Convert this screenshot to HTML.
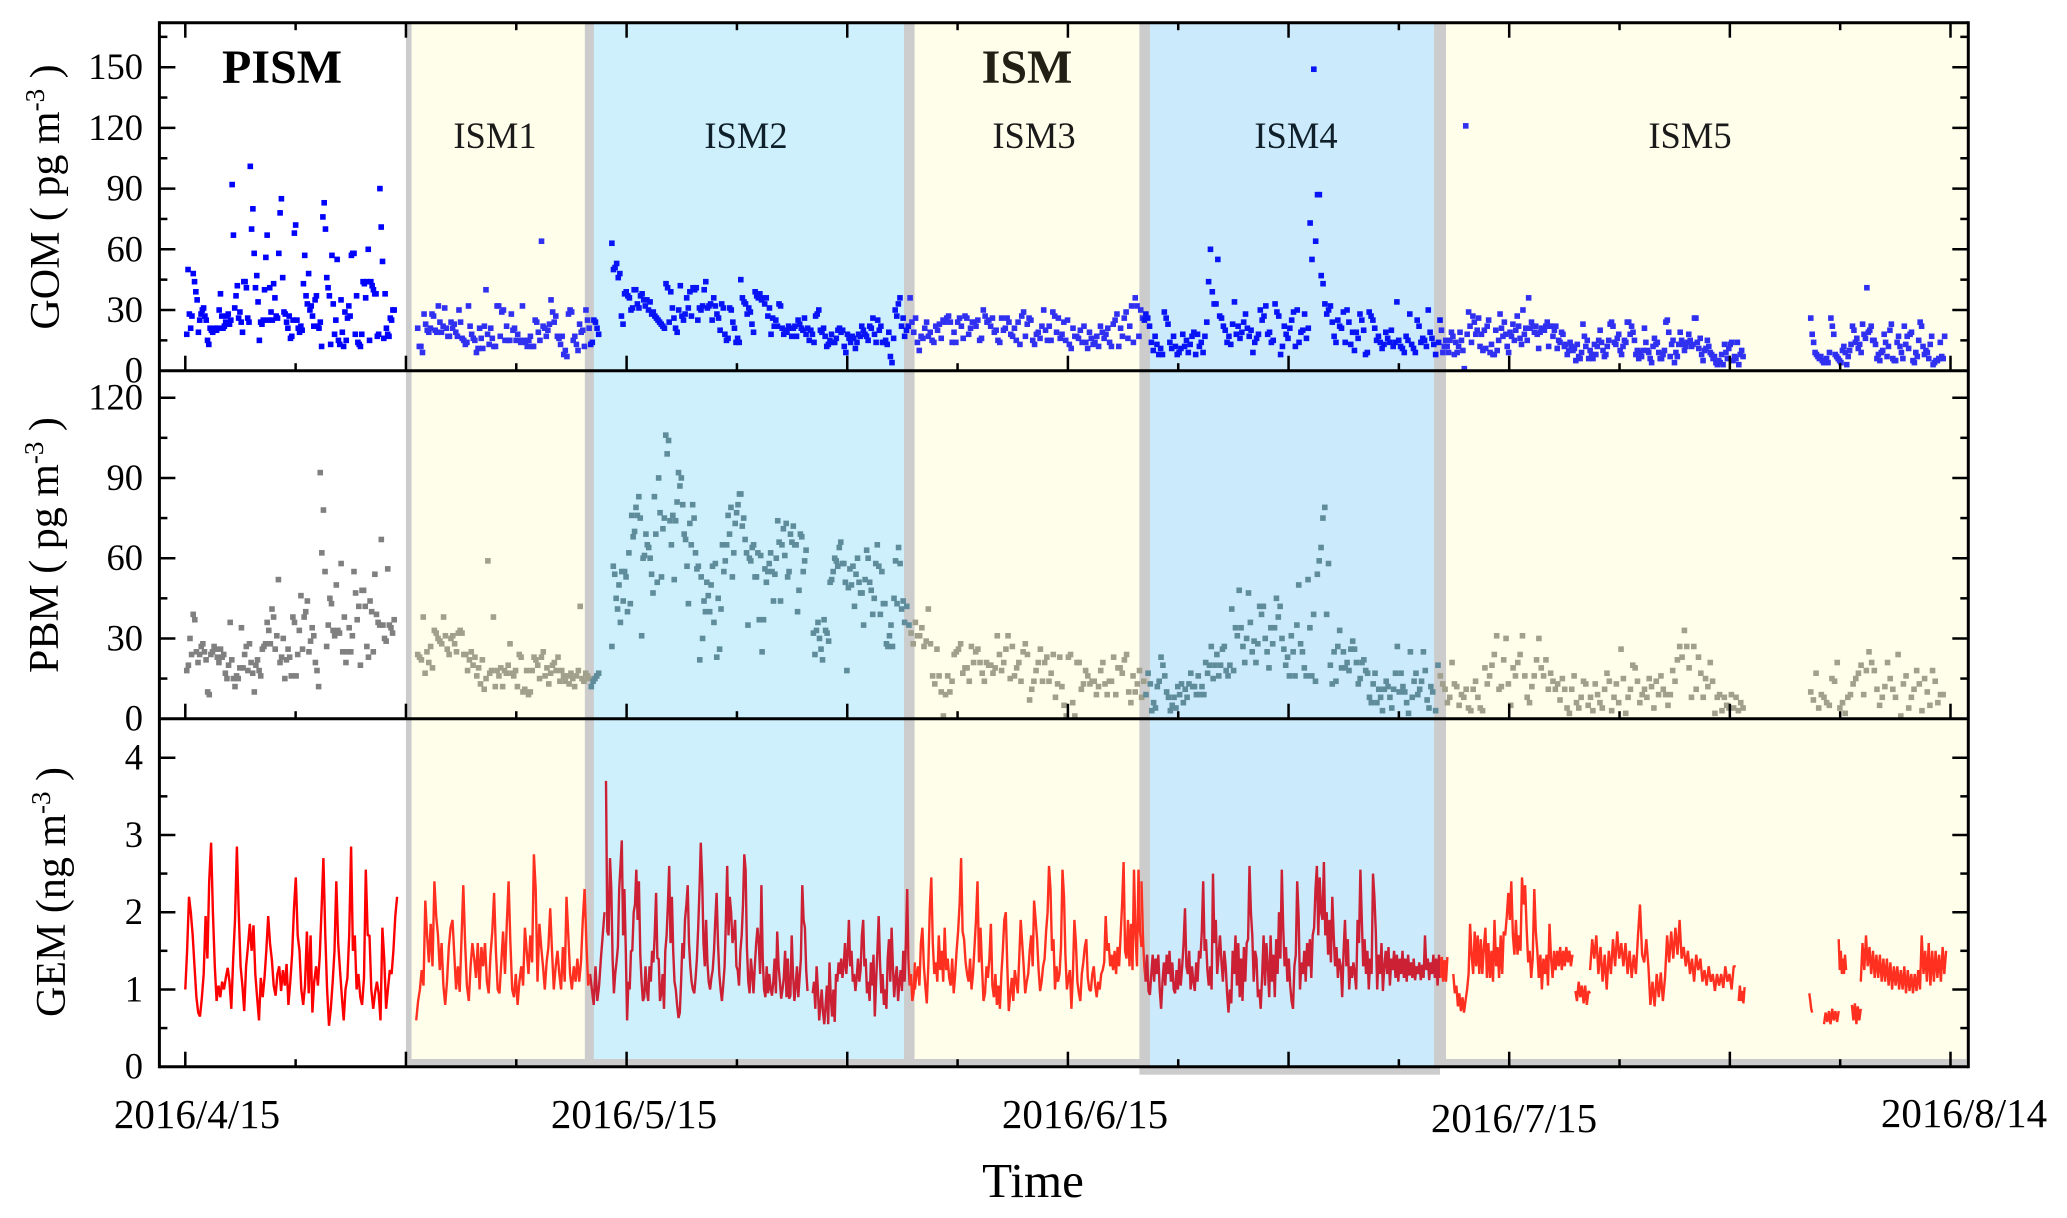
<!DOCTYPE html>
<html lang="en">
<head>
<meta charset="utf-8">
<title>GOM, PBM and GEM time series</title>
<style>
html,body{margin:0;padding:0;background:#fff;}
svg{display:block;font-family:"Liberation Serif",serif;}
</style>
</head>
<body>
<svg id="chart" xmlns="http://www.w3.org/2000/svg" width="2067" height="1218" viewBox="0 0 2067 1218">
  <g id="bands"></g>
  <g id="marks"></g>
  <g id="axes"></g>
  <g>
    <text x="282" y="83" text-anchor="middle" font-size="48" font-weight="bold">PISM</text>
    <text x="1032" y="83" text-anchor="middle" font-size="48" font-weight="bold" fill="#221f14" dx="-5">ISM</text>
    <text x="495" y="148" text-anchor="middle" font-size="36.5" fill="#1a1a1a">ISM1</text>
    <text x="746" y="148" text-anchor="middle" font-size="36.5" fill="#10202a">ISM2</text>
    <text x="1034" y="148" text-anchor="middle" font-size="36.5" fill="#1a1a1a">ISM3</text>
    <text x="1296" y="148" text-anchor="middle" font-size="36.5" fill="#10202a">ISM4</text>
    <text x="1690" y="148" text-anchor="middle" font-size="36.5" fill="#1a1a1a">ISM5</text>
  </g>
  <g font-size="41">
    <text x="197" y="1128" text-anchor="middle">2016/4/15</text>
    <text x="634" y="1128" text-anchor="middle">2016/5/15</text>
    <text x="1085" y="1128" text-anchor="middle">2016/6/15</text>
    <text x="1514" y="1132" text-anchor="middle">2016/7/15</text>
    <text x="1964" y="1127" text-anchor="middle">2016/8/14</text>
  </g>
  <text x="1033" y="1197" text-anchor="middle" font-size="49">Time</text>
  <text transform="translate(59,197) rotate(-90)" text-anchor="middle" font-size="42">GOM ( pg m<tspan dy="-15" font-size="27">-3</tspan><tspan dy="15"> )</tspan></text>
  <text transform="translate(58,545) rotate(-90)" text-anchor="middle" font-size="42">PBM ( pg m<tspan dy="-15" font-size="27">-3</tspan><tspan dy="15"> )</tspan></text>
  <text transform="translate(65,892) rotate(-90)" text-anchor="middle" font-size="42">GEM (ng m<tspan dy="-15" font-size="27">-3</tspan><tspan dy="15"> )</tspan></text>
</svg>
<script>
// ---------- tick data ----------
const gomTicks = [0,30,60,90,120,150];
const gomMinorTicks = [15,45,75,105,135,165];
const pbmTicks = [0,30,60,90,120];
const pbmMinorTicks = [15,45,75,105];
const gemTicks = [0,1,2,3,4];
const gemMinorTicks = [0.5,1.5,2.5,3.5];
const xTickDays = [0,15,30,45,60,75,90,105,120];
const xMinorTickDays = [7.5,22.5,37.5,52.5,67.5,82.5,97.5,112.5];

// ---------- period boundaries, days since 2016/4/15 ----------
const periodEdgeDays = [15,27.5,49.2,65.2,85.3];

// ---------- GOM (pg m-3) ----------
const gomSpans = [[0.1,14.2],[15.8,28.1],[29,48.8],[48.9,65.2],[65.3,85],[85.2,105.9],[110.5,119.6]];
const gomPism = [18,50,28,21,27,48,44,39,35,19,25,28,30,31,27,25,15,13,21,20,19,20,21,20,21,30,38,27,21,22,24,27,28,23,25,92,67,31,37,42,26,29,24,19,44,44,41,26,24,101,70,80,58,41,47,34,15,24,23,25,40,56,67,25,41,29,25,43,36,27,26,58,78,85,46,29,28,24,21,27,16,17,25,68,72,25,21,19,22,20,43,57,37,33,48,30,32,27,22,35,37,22,21,24,12,76,83,70,46,41,37,13,57,33,18,25,55,15,13,35,19,12,29,15,26,32,27,57,58,58,18,37,14,13,12,18,44,43,36,44,60,15,44,42,40,38,38,17,18,90,71,54,16,38,21,18,17,26,25,30,30];
const gomIsm1 = [21,12,12,9,28,23,20,19,21,28,27,20,19,32,24,19,22,31,21,17,17,24,21,23,19,17,30,24,16,15,13,14,32,22,18,16,15,9,11,21,16,11,22,40,18,13,21,16,12,12,32,32,17,29,30,15,22,15,15,28,20,21,15,18,15,14,32,15,14,12,15,17,12,12,25,24,19,15,64,22,21,17,20,23,35,29,24,27,17,16,13,17,8,10,7,28,30,29,15,17,13,10,23,19,20,12,30,25,21,13,14,25,24,21,18];
const gomIsm2 = [63,50,51,53,46,48,27,23,38,39,37,36,30,31,40,40,33,31,37,38,35,32,35,30,34,28,29,27,26,25,24,23,22,21,43,41,24,39,31,26,21,19,30,42,27,25,28,36,31,39,27,41,40,41,25,31,30,32,40,44,31,32,33,25,36,32,28,26,20,33,31,18,15,16,31,30,24,21,14,16,14,45,36,34,33,28,31,29,23,19,39,37,36,38,35,36,33,36,27,31,18,26,22,25,22,33,32,21,18,20,19,22,21,17,21,22,17,25,23,21,20,26,18,21,15,20,18,14,27,28,30,20,19,21,17,12,13,15,18,14,14,16,20,21,19,20,12,9,18,16,14,17,16,11,14,18,17,22,20,18,17,15,22,21,26,18,14,25,20,22,14,14,15,13,19,7,4,16,30,27,33,36,22,26];
const gomIsm3 = [17,20,22,36,24,19,26,14,10,17,16,21,24,17,19,15,14,22,20,23,16,25,24,26,27,24,14,19,14,24,26,22,16,27,26,18,21,24,24,22,25,15,16,30,27,24,25,22,26,19,20,15,14,26,20,21,26,24,18,17,21,15,24,13,27,29,17,23,26,25,15,13,18,19,16,22,30,20,15,22,15,29,27,19,26,16,18,24,15,25,13,11,21,17,17,16,20,14,22,14,11,19,16,13,14,17,12,22,19,16,18,21,14,12,23,25,28,12,21,17,26,29,16,22,32,14,36,32,17,30,26,25];
const gomIsm4 = [28,26,22,14,10,17,13,8,11,8,29,26,23,14,11,17,12,8,9,11,18,12,15,9,13,17,19,8,18,12,14,9,17,24,44,60,39,33,33,55,27,26,22,20,14,17,13,23,34,18,22,16,19,24,28,21,17,20,9,14,16,18,30,25,27,32,18,19,14,15,33,29,27,8,12,22,18,16,21,25,29,12,30,14,19,20,28,16,21,73,55,149,64,87,87,47,43,33,28,30,32,24,17,14,25,22,21,29,14,30,24,13,19,10,19,16,28,25,20,8,9,29,27,25,21,15,17,14,11,13,19,16,14,20,12,14,34,15,12,11,9,17,15,28,13,11,9,25,22,14,16,15,12,30,19,16,13,8];
const gomIsm5a = [14,25,20,9,12,15,12,9,15,19,17,8,14,9,12,19,15,10,1,121,18,29,22,14,27,24,18,20,26,12,18,10,20,11,22,25,9,13,8,8,20,10,15,28,21,17,24,18,12,9,19,17,23,15,20,27,22,16,13,30,18,21,15,36,21,24,22,19,22,18,11,19,21,21,20,22,24,12,22,22,17,20,22,11,15,14,19,18,12,13,8,10,14,12,10,11,5,13,7,6,9,23,17,12,15,6,10,8,6,13,8,12,15,20,14,10,7,8,12,15,23,24,22,14,13,16,18,10,8,12,15,14,24,24,18,22,19,15,8,10,6,9,7,10,21,14,10,9,6,4,12,16,13,14,9,6,6,8,10,24,25,19,7,13,15,4,9,7,13,19,15,13,10,12,14,18,15,12,13,26,26,14,11,16,8,5,10,11,15,12,9,8,6,7,4,3,5,4,8,3,13,9,6,11,13,14,5,7,6,14,3,8,10,7];
const gomIsm5b = [26,18,14,9,8,7,6,7,5,4,4,6,4,9,26,22,18,8,7,6,5,4,10,12,9,3,7,10,13,22,20,14,16,11,13,9,23,18,16,41,19,20,22,15,15,13,6,8,5,9,10,18,14,7,12,20,23,6,5,5,14,17,12,9,6,22,13,17,11,18,19,5,4,9,7,15,24,22,12,8,10,9,6,13,17,3,4,5,5,6,14,7,6,17];

// ---------- PBM (pg m-3) ----------
const pbmSpans = [[0.1,14.2],[15.8,28.1],[29,42.2],[42.7,48.8],[48.9,65.6],[65.7,84.8],[85,105.9],[110.5,119.5]];
const pbmPism = [18,20,30,24,39,37,25,21,24,27,28,25,22,10,9,24,25,27,26,23,21,26,23,24,17,15,20,36,22,15,12,16,15,19,34,19,24,27,18,28,21,17,10,20,22,18,16,26,27,28,36,33,28,41,38,26,31,52,21,23,30,15,22,26,23,16,38,36,16,24,33,46,26,38,40,44,25,29,34,31,21,18,12,92,62,78,55,27,35,45,43,33,31,50,33,32,58,25,38,21,25,34,25,31,55,47,37,42,20,48,48,42,27,23,44,40,25,54,39,36,35,67,35,30,29,56,35,34,32,37];
const pbmIsm1 = [24,23,22,38,17,25,21,27,19,33,32,30,29,28,38,31,26,24,30,31,28,25,32,33,32,24,24,18,22,25,20,23,16,19,13,22,11,15,59,17,18,38,12,18,16,19,12,18,17,20,28,17,16,18,12,24,23,10,11,18,9,10,18,23,22,20,15,23,25,16,19,13,17,20,21,18,23,14,18,16,14,16,13,17,15,12,16,18,42,15,14,17,16,15,12,14,15,16,17];
const pbmIsm2a = [27,57,54,45,41,50,36,55,44,55,53,40,62,43,76,68,70,79,76,83,75,31,60,61,69,65,64,60,54,47,83,69,51,90,77,53,71,75,106,99,104,74,65,76,52,74,81,92,87,90,80,69,67,57,43,73,65,80,75,62,56,57,22,53,30,44,40,51,46,40,50,57,36,58,23,45,26,41,65,55,59,65,76,69,79,53,62,73,77,80,84,84,72,75,67,62,35,60,59,64,65,53,53,62,37,61,25,37,56,51,55,58,62,55,44,54,60,74,66,44,65,71,61,73,53,55,69,66,72,65,65,40,48,69,68,55,59,63];
const pbmIsm2b = [32,24,33,36,30,26,22,37,33,32,29,51,52,55,60,59,57,64,66,58,58,51,18,49,56,50,57,42,54,60,51,47,47,35,52,63,60,51,48,39,45,58,65,57,39,55,43,43,28,27,31,35,27,45,59,43,64,58,41,44];
const pbmIsm3 = [36,42,35,32,28,36,31,31,34,27,29,41,28,16,13,26,16,10,1,9,16,10,14,24,25,26,28,17,19,19,14,27,21,25,26,21,17,14,21,20,20,17,19,31,24,18,21,26,31,15,27,16,19,21,14,25,28,24,7,11,14,18,21,26,14,21,23,14,17,24,8,13,23,12,5,1,23,24,6,1,21,21,11,13,18,16,13,14,14,9,12,18,21,13,9,14,14,23,9,19,19,17,22,24,10,6,16,10,13,18,8,14,9,17,13];
const pbmIsm4 = [3,6,4,12,14,23,20,16,10,8,3,5,8,4,12,9,13,6,11,8,13,17,12,12,9,16,9,12,9,21,17,20,27,15,20,24,16,20,26,27,18,16,20,41,18,34,31,48,34,27,21,30,47,36,25,29,21,28,42,39,42,30,25,19,34,28,34,45,38,42,30,26,20,23,16,31,25,16,35,50,28,25,19,16,52,34,16,39,14,54,59,64,75,79,39,58,20,13,25,14,27,33,19,25,19,21,18,26,29,26,21,13,15,21,22,18,17,8,6,13,17,6,11,8,3,11,14,12,8,4,11,17,27,10,17,12,10,6,2,25,8,14,17,9,11,14,25,18,7,4,12,10];
const pbmIsm5a = [3,20,16,13,11,6,8,21,13,12,5,9,8,11,4,3,11,14,8,4,3,19,13,16,20,24,31,11,12,22,30,13,5,19,16,21,24,31,16,8,6,12,16,22,30,19,16,22,11,17,14,11,13,7,15,11,4,2,11,16,6,4,8,14,13,5,8,3,13,9,6,4,11,17,14,3,8,13,6,26,15,2,8,11,20,19,14,6,9,11,8,15,12,4,14,9,16,11,9,5,9,18,14,22,27,23,33,27,19,8,27,11,23,17,8,15,12,21,14,2,8,9,3,8,5,4,9,4,8,3,6,4];
const pbmIsm5b = [10,7,17,4,9,8,6,5,15,14,21,4,6,2,8,9,13,15,17,20,9,18,25,21,18,11,5,8,12,21,15,11,8,24,1,13,16,4,8,11,18,13,3,15,10,5,18,14,6,9,9];

// ---------- GEM (ng m-3) ----------
const gemSpans = [[0,14.4],[15.7,28.5],[28.6,42.3],[42.65,49.6],[49.6,65],[65,85.8],[86.2,94.3],[94.5,95.5],[95.5,105.4],[105.6,106],[110.4,110.6],[111.4,112.4],[112.4,112.9],[113.3,113.9],[113.9,119.7]];
const gemPism = [1.0,1.5,2.2,2.0,1.7,1.3,.9,.7,.65,.9,1.2,1.95,1.4,2.4,2.9,2.0,1.3,.85,1.05,.9,1.1,1.0,1.15,1.28,1.1,.75,1.4,1.9,2.85,2.0,1.3,1.05,.72,1.3,1.55,1.85,1.5,1.83,1.2,.9,.6,1.15,.9,1.15,1.5,1.95,1.6,1.38,1.05,.92,1.2,1.3,.98,1.25,1.05,1.33,.8,1.1,1.45,2.05,2.45,1.7,1.5,1.0,.8,1.05,1.75,.95,1.7,.7,1.1,1.3,1.05,1.45,2.05,2.7,1.7,1.0,.53,.75,1.1,1.5,2.4,1.6,1.25,.9,.6,1.0,1.15,1.7,2.85,1.5,1.7,1.0,1.2,.9,.8,1.15,2.55,1.7,1.7,1.0,.75,.95,1.1,.95,.6,1.8,1.4,.75,1.0,1.25,1.2,1.5,1.95,2.2];
const gemIsm1 = [.6,.85,1.0,1.25,1.05,2.15,1.7,1.35,1.85,1.3,2.4,1.95,1.7,1.25,1.6,1.05,.8,1.1,1.55,1.8,1.9,1.45,1.0,1.3,.97,1.65,2.35,1.6,1.05,.85,1.3,1.6,1.4,1.15,1.6,1.0,1.55,1.3,1.6,1.1,.95,1.45,1.75,2.25,1.5,1.0,.95,1.35,1.75,1.2,1.85,2.4,1.6,1.0,.9,1.2,.8,1.1,1.3,1.05,1.8,1.5,1.2,1.7,1.35,2.75,2.3,1.1,1.85,1.55,1.3,1.0,1.35,1.55,2.05,1.5,1.0,1.3,1.5,1.2,1.0,1.55,1.1,2.2,1.7,1.2,1.0,1.3,1.1,1.4,1.1,1.35,1.9,2.3,1.6,1.05,1.2,1.0,.8,1.3,.85,1.05,1.4,1.7,2.0];
const gemIsm2a = [3.7,1.75,1.7,2.7,2.3,1.4,.95,1.2,1.35,1.55,2.3,2.6,2.93,1.7,2.3,1.5,.6,1.1,1.0,1.5,1.5,2.0,2.1,2.55,1.9,2.4,1.45,1.1,.85,.9,1.3,1.0,.85,1.3,1.1,1.5,1.35,1.7,2.25,1.4,1.4,.85,.95,1.2,.75,1.5,1.7,2.1,2.6,1.6,2.2,1.5,1.1,1.0,.8,.63,.7,1.1,1.6,1.4,1.9,2.1,2.35,1.6,1.3,1.1,1.0,.95,1.15,1.4,1.8,2.3,2.9,2.4,1.6,1.3,1.9,1.35,1.1,1.0,1.15,1.25,1.5,1.9,2.25,1.6,1.2,1.0,.85,1.05,1.3,1.9,2.6,1.7,2.2,2.0,1.6,1.7,1.9,1.3,1.25,1.05,1.5,1.7,2.1,2.75,2.55,1.55,1.1,.95,1.4,1.2,.95,1.3,1.6,1.8,1.6,1.2,2.35,1.4,1.0,.9,1.3,.95,1.2,1.0,.92,1.1,1.4,.95,1.75,1.3,1.1,.88,1.0,1.15,1.5,.9,1.4,.88,.92,1.7,1.2,.85,1.05,1.3,.9,1.15,1.4,2.35,1.9,1.8,1.25,.98];
const gemIsm2b = [.95,1.1,.75,1.3,1.0,.6,.8,1.0,.7,.55,.8,1.05,.55,1.35,.9,.65,1.0,.58,1.2,1.1,1.35,1.2,1.4,1.15,1.3,1.6,1.2,1.45,1.9,1.3,1.5,1.1,1.2,.98,1.15,1.4,1.1,1.25,1.7,1.9,1.3,1.4,.95,1.1,.85,1.35,1.05,1.45,.65,1.1,1.5,1.95,1.35,.95,1.2,.8,1.0,.75,1.4,1.65,1.1,1.8,1.3,.9,1.15,1.3,.85,1.1,1.25,.98,1.5,1.1,1.6,2.3,1.4,1.05,1.2,.85,.95,1.35];
const gemIsm3 = [1.0,1.2,1.3,1.05,1.6,1.8,1.3,1.05,.82,1.3,2.05,2.45,1.6,1.2,1.35,1.1,1.7,1.25,1.5,1.1,1.8,1.25,1.4,1.15,1.05,1.4,.95,1.2,1.5,1.75,2.1,2.7,1.75,1.65,1.35,1.2,1.1,1.4,1.0,1.2,1.55,1.9,2.4,1.35,1.8,1.3,.85,.95,1.3,1.15,1.4,1.85,1.05,.9,1.2,.8,1.05,.75,1.2,1.5,1.9,2.0,1.3,.72,.95,1.15,.85,1.25,1.1,.95,1.4,1.9,1.6,1.3,.95,1.1,1.2,1.5,1.7,1.3,2.15,1.9,1.65,1.25,.98,1.1,1.3,1.4,1.75,2.0,2.6,2.3,1.5,1.65,1.0,1.3,1.1,1.2,1.55,2.55,2.2,1.45,1.0,1.15,1.25,.75,1.2,1.9,1.6,1.1,.95,.85,1.2,1.35,1.55,1.65,1.15,1.0,.98,1.2,1.3,1.05,.9,1.1,1.0,1.2,1.25,1.35,1.95,1.5,1.6,1.3,1.45,1.25,1.5,1.2,1.55,1.3,1.7,2.1,2.65,1.5,1.4,1.9,1.3,1.85,1.25,2.55,1.7,1.3,2.55,1.75,1.55];
const gemIsm4 = [2.4,1.7,1.3,1.1,1.45,.98,.93,1.2,1.45,1.1,1.4,1.2,1.45,1.0,.75,1.1,1.35,1.05,1.45,1.2,1.5,1.1,1.35,1.0,.95,1.25,1.0,1.4,1.05,1.3,1.6,2.05,1.3,1.2,1.5,1.0,1.3,1.1,.98,1.35,1.1,1.5,1.4,1.75,2.4,1.5,1.65,1.25,1.05,1.3,1.0,2.5,1.6,1.9,1.2,1.45,1.7,1.35,1.1,1.5,1.3,.95,.7,1.0,.82,1.5,1.2,1.7,1.05,1.6,.9,1.4,.85,1.55,1.1,1.6,1.65,2.6,2.0,1.7,1.1,1.5,1.4,.9,1.0,.75,1.2,1.7,1.05,1.6,1.3,.9,1.7,1.1,1.45,.9,1.65,1.2,2.0,1.4,2.55,1.8,1.3,1.55,1.1,1.4,1.05,.85,.75,1.3,1.45,2.4,1.95,1.0,1.35,1.2,1.5,1.1,1.6,1.3,1.65,1.15,1.7,1.8,2.3,2.6,1.7,2.45,2.0,1.9,2.65,1.7,2.0,1.45,1.9,1.35,2.2,1.7,1.3,1.55,1.15,1.4,1.3,.9,1.5,1.9,1.3,1.65,1.0,1.3,1.15,1.35,1.2,1.0,1.9,1.6,2.55,1.9,1.3,1.65,1.2,1.5,1.0,1.4,1.2,2.5,2.2,1.75,1.0,1.45,1.2,1.6,.98,1.3,1.5,1.2,1.55,1.05,1.4,1.25,1.5,1.15,1.45,1.1,1.4,1.2,1.5,1.15,1.4,1.1,1.45,1.18,1.35,1.15,1.4,1.12,1.3,1.2,1.35,1.12,1.32,1.15,1.7,1.25,1.4,1.12,1.35,1.2,1.45,1.15,1.4,1.05,1.45,1.15,1.42,1.1,1.38,1.1,1.42];
const gemIsm5a = [1.2,.95,1.05,.78,.95,.72,.9,.7,.85,1.0,1.2,1.85,1.45,1.2,1.75,1.3,1.7,1.2,1.65,1.2,1.55,1.8,1.15,1.6,1.15,1.5,1.1,1.9,1.3,1.55,1.15,1.7,1.2,1.75,1.7,1.95,2.25,1.9,2.4,1.7,1.45,1.9,1.45,1.7,1.5,2.45,2.1,2.35,1.8,1.35,1.5,1.15,1.4,2.3,1.75,1.5,1.15,1.45,1.0,1.4,1.2,1.45,1.05,1.85,1.4,1.15,1.5,1.25,1.5,1.3,1.55,1.25,1.5,1.3,1.55,1.35,1.5,1.3,1.45];
const gemIsm5b = [.98,.85,1.1,.9,1.05,.82,1.05,.8,.98,.95];
const gemIsm5c = [1.25,1.65,1.4,1.7,1.2,1.55,1.1,1.45,1.0,1.5,1.2,1.65,1.3,1.75,1.4,1.6,1.3,1.6,1.2,1.5,1.15,1.45,1.2,1.7,2.1,1.45,1.35,1.65,1.3,.8,1.1,.78,1.2,.9,1.22,.85,1.15,1.7,1.35,1.75,1.4,1.8,1.45,1.9,1.4,1.55,1.3,1.5,1.2,1.4,1.1,1.45,1.25,1.4,1.1,1.25,1.05,1.3,1.1,1.2,.98,1.2,1.05,1.2,1.02,1.3,1.1,1.2,1.0,1.3,1.3];
const gemIsm5d = [.85,1.05,.85,.98,.82,1.03];
const gemIsm5e = [.95,.85,.75,.7];
const gemIsm5f = [.55,.7,.58,.72,.55,.75,.6,.72,.58,.72];
const gemIsm5g = [1.65,1.25,1.5,1.2,1.4,1.2,1.45,1.25];
const gemIsm5h = [.8,.6,.82,.55,.78,.6,.75];
const gemIsm5i = [1.1,1.6,1.25,1.7,1.3,1.55,1.2,1.5,1.15,1.45,1.15,1.45,1.1,1.4,1.1,1.4,1.05,1.35,1.0,1.3,1.05,1.3,1.0,1.25,1.0,1.3,.95,1.25,.98,1.2,.95,1.2,.98,1.25,1.0,1.7,1.2,1.5,1.1,1.6,1.05,1.5,1.1,1.5,1.15,1.45,1.1,1.55,1.2,1.5];

// ---------- scales ----------
const NS = 'http://www.w3.org/2000/svg';
const plotLeft = 159.4, plotRight = 1968.3, plotTop = 22.7, plotBottom = 1066.7;
const gomZero = 370.7, pbmZero = 718.7;
const xDay = d => 185.3 + d * 14.71;
const yGom = v => gomZero - v * 2.0233;
const yPbm = v => pbmZero - v * 2.675;
const yGem = v => plotBottom - v * 77.25;

function el(tag, attrs, parent) {
  const e = document.createElementNS(NS, tag);
  for (const k in attrs) e.setAttribute(k, attrs[k]);
  parent.appendChild(e);
  return e;
}

// ---------- bands ----------
const bandsG = document.getElementById('bands');
const grayBand = '#cccccc', yellowBand = '#fffeeb', blueA = '#cdf0fc', blueB = '#cbeafc';
const edges = periodEdgeDays.map(xDay);
const fills = [
  ['ism1-band', yellowBand, edges[0], edges[1]],
  ['ism2-band', blueA, edges[1], edges[2]],
  ['ism3-band', yellowBand, edges[2], edges[3]],
  ['ism4-band', blueB, edges[3], edges[4]],
  ['ism5-band', yellowBand, edges[4], plotRight]
];
fills.forEach(f => {
  const r = el('rect', {x: f[2], y: plotTop, width: f[3] - f[2], height: plotBottom - plotTop, fill: f[1]}, bandsG);
  
  
});
[[edges[0], edges[0] + 5.6], [edges[1] - 5, edges[1] + 4], [edges[2] - 5, edges[2] + 5.5], [edges[3] - 5, edges[3] + 5.5], [edges[4] - 6, edges[4] + 6]].forEach(s => {
  const r = el('rect', {x: s[0], y: plotTop, width: s[1] - s[0], height: plotBottom - plotTop, fill: grayBand}, bandsG);
  
  
});
[[edges[0], edges[2] + 5.5], [edges[2] - 5, edges[3] + 5.5], [edges[4] - 6, plotRight - 2]].forEach(s => {
  const r = el('rect', {x: s[0], y: 1059, width: s[1] - s[0], height: 7, fill: grayBand}, bandsG);
  
  
});
const ism4Under = el('rect', {x: edges[3] - 5, y: plotBottom, width: edges[4] - edges[3] + 5, height: 8, fill: grayBand}, bandsG);



// colour of a mark in a given day range (band tint shows through the marks)
function tintFor(day, whiteC, yellowC, blueC) {
  if (day < periodEdgeDays[0]) return whiteC;
  if (day < periodEdgeDays[1]) return yellowC;
  if (day < periodEdgeDays[2]) return blueC;
  if (day < periodEdgeDays[3]) return yellowC;
  if (day < periodEdgeDays[4]) return blueC;
  return yellowC;
}

// ---------- scatter series ----------
const marksG = document.getElementById('marks');
const dotSize = 5.6;
function drawDots(name, segs, spans, yFn, colors) {
  const g = el('g', {}, marksG);
  
  
  segs.forEach((vals, si) => {
    const [a, b] = spans[si];
    vals.forEach((v, i) => {
      const d = a + (b - a) * i / Math.max(1, vals.length - 1);
      const r = el('rect', {x: xDay(d) - dotSize / 2, y: yFn(v) - dotSize / 2, width: dotSize, height: dotSize, fill: tintFor(d, colors[0], colors[1], colors[2])}, g);
      
      
    });
  });
}
drawDots('gom', [gomPism, gomIsm1, gomIsm2, gomIsm3, gomIsm4, gomIsm5a, gomIsm5b], gomSpans, yGom, ['#0000ff', '#3030f0', '#0814f5']);
drawDots('pbm', [pbmPism, pbmIsm1, pbmIsm2a, pbmIsm2b, pbmIsm3, pbmIsm4, pbmIsm5a, pbmIsm5b], pbmSpans, yPbm, ['#808080', '#a0a08c', '#5f8c9b']);

// ---------- GEM line ----------
const gemSegs = [gemPism, gemIsm1, gemIsm2a, gemIsm2b, gemIsm3, gemIsm4, gemIsm5a, gemIsm5b, gemIsm5c, gemIsm5d, gemIsm5e, gemIsm5f, gemIsm5g, gemIsm5h, gemIsm5i];
let gemPath = '';
gemSegs.forEach((vals, si) => {
  const [a, b] = gemSpans[si];
  vals.forEach((v, i) => {
    const d = a + (b - a) * i / Math.max(1, vals.length - 1);
    gemPath += (i === 0 ? 'M' : 'L') + xDay(d).toFixed(1) + ' ' + yGem(v).toFixed(1);
  });
});
const defs = el('defs', {}, marksG);
const gemRegions = [
  [plotLeft, edges[0], '#ff0000'],
  [edges[0], edges[1], '#ff3020'],
  [edges[1], edges[2], '#cc2035'],
  [edges[2], edges[3], '#ff3020'],
  [edges[3], edges[4], '#cc2035'],
  [edges[4], plotRight, '#ff3020']
];
gemRegions.forEach((rg, i) => {
  const cp = el('clipPath', {id: 'gemClip' + i}, defs);
  el('rect', {x: rg[0], y: 720, width: rg[1] - rg[0], height: 346}, cp);
  const p = el('path', {d: gemPath, fill: 'none', stroke: rg[2], 'stroke-width': 2.4, 'stroke-linejoin': 'bevel', 'clip-path': 'url(#gemClip' + i + ')'}, marksG);
  
  
});

// ---------- axes ----------
const axesG = document.getElementById('axes');
function line(x1, y1, x2, y2, w, name) {
  const l = el('line', {x1: x1, y1: y1, x2: x2, y2: y2, stroke: '#000', 'stroke-width': w}, axesG);
  
  
}
function yAxis(name, ticks, minors, yFn) {
  ticks.forEach(v => {
    const y = yFn(v);
    line(plotLeft, y, plotLeft + 16, y, 2.5, name + '-tick');
    line(plotRight - 16, y, plotRight, y, 2.5, name + '-right-tick');
    const t = el('text', {x: 143, y: y + 12, 'text-anchor': 'end', 'font-size': 36.5}, axesG);
    t.textContent = String(v);
    
    
  });
  minors.forEach(v => {
    const y = yFn(v);
    line(plotLeft, y, plotLeft + 8, y, 2.5, name + '-minor-tick');
    line(plotRight - 8, y, plotRight, y, 2.5, name + '-right-minor-tick');
  });
}
yAxis('gom-y', gomTicks, gomMinorTicks, yGom);
yAxis('pbm-y', pbmTicks, pbmMinorTicks, yPbm);
yAxis('gem-y', gemTicks, gemMinorTicks, yGem);
[gomZero, pbmZero, plotBottom].forEach(y => {
  xTickDays.forEach(d => line(xDay(d), y - 15, xDay(d), y, 2.5, 'x-tick'));
  xMinorTickDays.forEach(d => line(xDay(d), y - 7.5, xDay(d), y, 2.5, 'x-minor-tick'));
});
xTickDays.forEach(d => line(xDay(d), plotTop, xDay(d), plotTop + 15, 2.5, 'x-top-tick'));
xMinorTickDays.forEach(d => line(xDay(d), plotTop, xDay(d), plotTop + 7.5, 2.5, 'x-top-minor-tick'));
line(plotLeft, plotTop, plotRight, plotTop, 3, 'top-frame');
line(plotLeft, gomZero, plotRight, gomZero, 3, 'gom-baseline');
line(plotLeft, pbmZero, plotRight, pbmZero, 3, 'pbm-baseline');
line(plotLeft, plotBottom, plotRight, plotBottom, 3, 'gem-baseline');
line(plotLeft, plotTop - 1.5, plotLeft, plotBottom + 1.5, 3, 'left-frame');
line(plotRight, plotTop - 1.5, plotRight, plotBottom + 1.5, 3, 'right-frame');
</script>
</body>
</html>
